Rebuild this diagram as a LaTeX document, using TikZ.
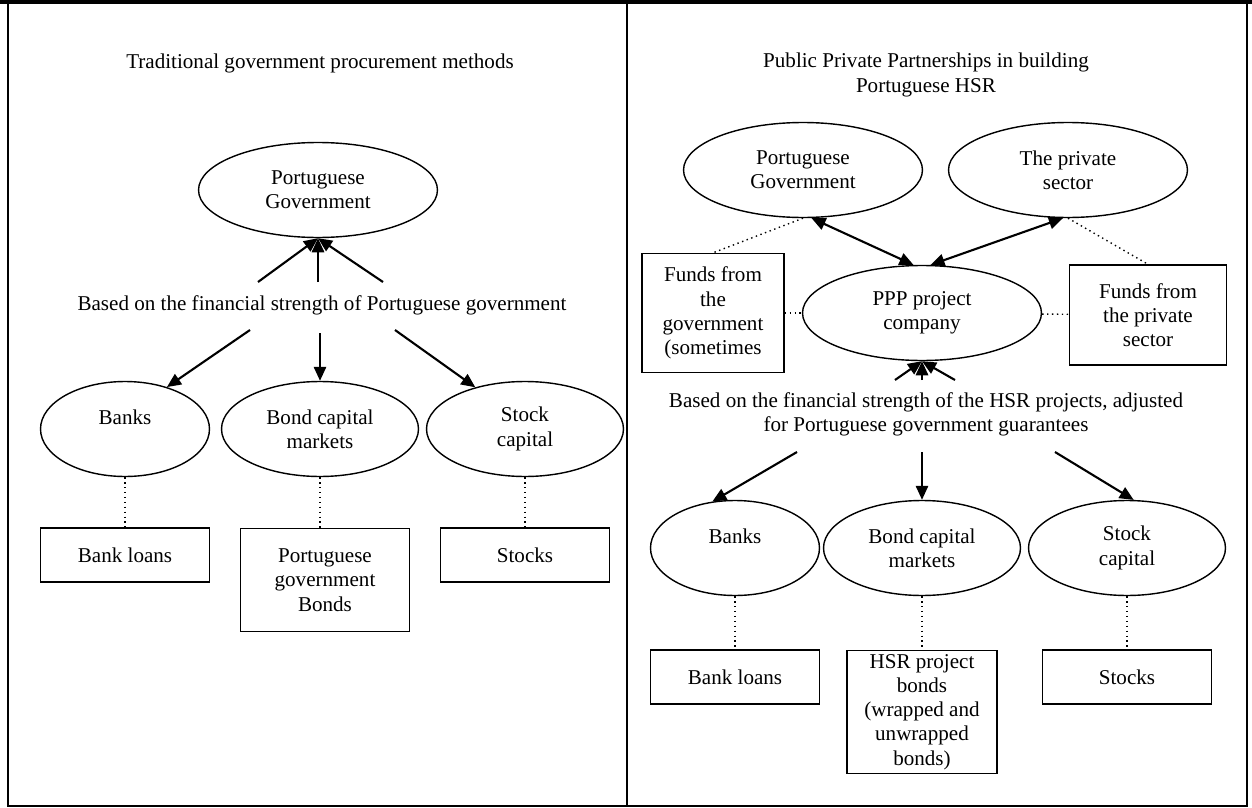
\documentclass[tikz,border=0pt]{standalone}
\usepackage{fontspec}
\setmainfont{Liberation Serif}
\usetikzlibrary{%
        arrows.meta,
        positioning,
        shapes.geometric}
\tikzset{%
    party/.style={ellipse, draw, line width=0.8pt, minimum width=4.78cm,
        minimum height=1.9cm, align=center, inner sep=0pt},
    market/.style={ellipse, draw, line width=0.8pt, minimum width=3.94cm,
        minimum height=1.9cm, align=center, inner sep=0pt},
    instrument/.style={rectangle, draw, line width=0.8pt, align=center,
        minimum width=3.38cm, minimum height=1.08cm, inner sep=2pt},
    flow/.style={-{Triangle[length=8pt, width=7pt]}, line width=1.2pt},
    twoway/.style={{Triangle[length=8pt, width=7pt]}-{Triangle[length=8pt, width=7pt]},
        line width=1.2pt},
    link/.style={dotted, line width=0.8pt}
}

\begin{document}
\begin{tikzpicture}[x=0.02cm, y=-0.02cm, font=\fontsize{12}{13.8}\selectfont]

    \useasboundingbox (0, 0) rectangle (1252, 808);

    % frame of the two panels
    \draw[line width=0.8pt] (8, 3) rectangle (1247, 806);
    \draw[line width=2.2pt] (0, 2) -- (1252, 2);
    \draw[line width=0.8pt] (627, 3) -- (627, 806);

    % traditional procurement
    \node (titleL) at (320, 63) {Traditional government procurement methods};
    \node[party] (govtL) at (318, 190) {Portuguese\\Government};
    \node (basisL) at (322, 305)
        {Based on the financial strength of Portuguese government};

    \node[market, minimum width=3.38cm] (banksL) at (125, 429) {Banks\\\mbox{}};
    \node[market] (bondL) at (320, 429) {Bond capital\\markets};
    \node[market] (stockL) at (525, 429) {Stock\\capital};

    \node[instrument] (loansL) at (125, 555) {Bank loans};
    \node[instrument, minimum height=2.06cm] (bondsL) at (325, 580)
        {Portuguese\\government\\Bonds};
    \node[instrument] (stocksL) at (525, 555) {Stocks};

    \coordinate (upL1) at (258, 282);
    \coordinate (upL2) at (318, 282);
    \coordinate (upL3) at (383, 282);
    \foreach \c in {upL1, upL2, upL3}
        \draw[flow] (\c) -- (govtL.south);

    \coordinate (dnL1) at (250, 330);
    \coordinate (dnL2) at (320, 333);
    \coordinate (dnL3) at (395, 330);
    \draw[flow] (dnL1) -- (banksL.45);
    \draw[flow] (dnL2) -- (bondL.north);
    \draw[flow] (dnL3) -- (stockL.140);

    \draw[link] (banksL) -- (loansL);
    \draw[link] (bondL.south) -- (bondL.south |- bondsL.north);
    \draw[link] (stockL) -- (stocksL);

    % public private partnerships
    \node[align=center] (titleR) at (926, 75)
        {Public Private Partnerships in building\\Portuguese HSR};
    \node[party] (govtR) at (803, 170) {Portuguese\\Government};
    \node[party] (privR) at (1068, 170) {The private\\sector};
    \node[party] (ppp) at (922, 313) {PPP project\\company};

    \node[instrument, minimum width=2.84cm, minimum height=2.38cm]
        (fundsGov) at (713, 313) {Funds from\\the\\government\\(sometimes};
    \node[instrument, minimum width=3.14cm, minimum height=2cm]
        (fundsPriv) at (1148, 315) {Funds from\\the private\\sector};

    \draw[twoway] (govtR.-80) -- (ppp.100);
    \draw[twoway] (privR.-96) -- (ppp.80);
    \draw[link] (govtR.south) -- (fundsGov.north);
    \draw[link] (privR.south) -- (fundsPriv.north);
    \draw[link] (fundsGov) -- (ppp);
    \draw[link] (ppp) -- (fundsPriv);

    \node[align=center] (basisR) at (926, 414)
        {Based on the financial strength of the HSR projects, adjusted\\
        for Portuguese government guarantees};

    \coordinate (upR1) at (895, 380);
    \coordinate (upR2) at (922, 380);
    \coordinate (upR3) at (955, 380);
    \foreach \c in {upR1, upR2, upR3}
        \draw[flow] (\c) -- (ppp.south);

    \node[market, minimum width=3.38cm] (banksR) at (735, 548) {Banks\\\mbox{}};
    \node[market] (bondR) at (922, 548) {Bond capital\\markets};
    \node[market] (stockR) at (1127, 548) {Stock\\capital};

    \node[instrument] (loansR) at (735, 677) {Bank loans};
    \node[instrument, minimum width=3cm] (bondsR) at (922, 712)
        {HSR project\\bonds\\(wrapped and\\unwrapped\\bonds)};
    \node[instrument] (stocksR) at (1127, 677) {Stocks};

    \coordinate (dnR1) at (797, 452);
    \coordinate (dnR2) at (922, 452);
    \coordinate (dnR3) at (1055, 452);
    \draw[flow] (dnR1) -- (banksR.116);
    \draw[flow] (dnR2) -- (bondR.north);
    \draw[flow] (dnR3) -- (stockR.82);

    \draw[link] (banksR) -- (loansR);
    \draw[link] (bondR) -- (bondsR);
    \draw[link] (stockR) -- (stocksR);

\end{tikzpicture}
\end{document}
